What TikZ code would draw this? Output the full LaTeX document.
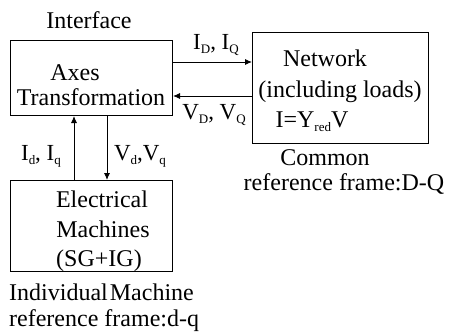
\documentclass[tikz,border=0pt]{standalone}
\usepackage{fontspec}
\setmainfont{Liberation Serif}
\usetikzlibrary{arrows.meta}
\newcommand\sbs[1]{\raisebox{-4pt}{\fontsize{13}{13}\selectfont #1}}
\begin{document}
\begin{tikzpicture}[x=1pt,y=-1pt,
  box/.style={draw,line width=1pt,inner sep=0pt,anchor=north west},
  txt/.style={anchor=base,inner sep=0pt,font=\fontsize{24}{29}\selectfont},
  lbl/.style={anchor=base,inner sep=0pt,font=\fontsize{23}{28}\selectfont},
  arr/.style={line width=0.9pt,-{Latex[length=7pt,width=6pt]}}]
\useasboundingbox (0,0) rectangle (449,334);
\node[box,minimum width=162pt,minimum height=75pt] (axes) at (10,40) {};
\node[box,minimum width=176pt,minimum height=111pt] (net) at (252,32) {};
\node[box,minimum width=162pt,minimum height=91pt] (mach) at (10,180) {};
% texts
\node[txt] (tint) at (89,29) {Interface};
\node[txt] (tax1) at (75,81) {Axes};
\node[txt] (tax2) at (91,106) {Transformation};
\node[txt] (tn1) at (325,67) {Network};
\node[txt] (tn2) at (340,98) {(including loads)};
\node[txt] (tn3) at (312,127) {I=Y\sbs{red}V};
\node[txt] (tc1) at (325,165) {Common};
\node[txt] (tc2) at (344,190) {reference frame:D-Q};
\node[txt] (te1) at (102,207) {Electrical};
\node[txt] (te2) at (103,237) {Machines};
\node[txt] (te3) at (99,266) {(SG+IG)};
\node[txt,anchor=base west] (ti1) at (9,300) {Individual\hspace{2pt}Machine};
\node[txt,anchor=base west] (ti2) at (9,326) {reference frame:d-q};
% connectors
\coordinate (y1) at (0,62);
\coordinate (y2) at (0,96);
\coordinate (x1) at (74,0);
\coordinate (x2) at (107,0);
\draw[arr] (axes.east |- y1) -- (net.west |- y1);
\draw[arr] (net.west |- y2) -- (axes.east |- y2);
\draw[arr] (mach.north -| x1) -- (axes.south -| x1);
\draw[arr] (axes.south -| x2) -- (mach.north -| x2);
% labels
\node[lbl] (l1) at (216,50) {I\sbs{D}, I\sbs{Q}};
\node[lbl] (l2) at (214,120) {V\sbs{D}, V\sbs{Q}};
\node[lbl] (l3) at (41,160) {I\sbs{d}, I\sbs{q}};
\node[lbl] (l4) at (140,160) {V\sbs{d},V\sbs{q}};
\end{tikzpicture}
\end{document}
